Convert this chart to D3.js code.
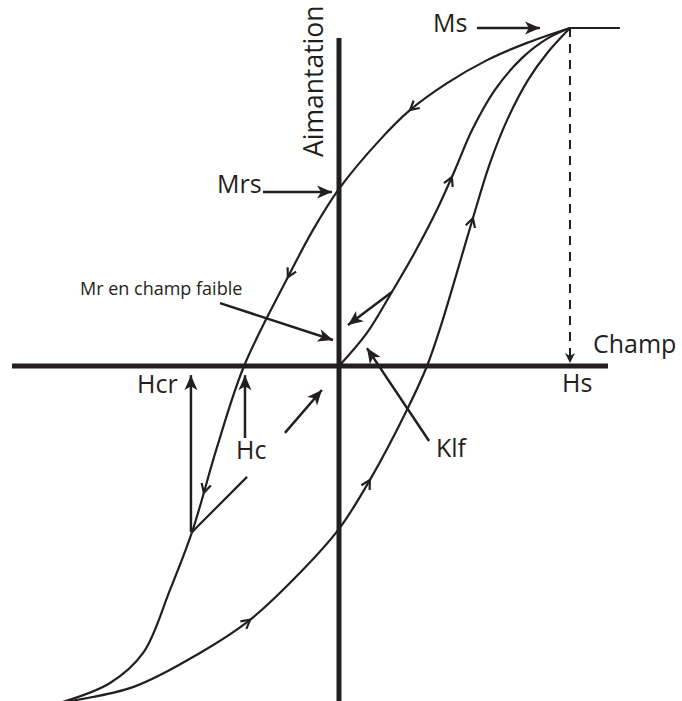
<!DOCTYPE html>
<html>
<head>
<meta charset="utf-8">
<script src="https://cdn.jsdelivr.net/npm/d3@7"></script>
<style>
  body { margin: 0; background: #fff; }
  svg { display: block; }
  text { font-family: "Open Sans", sans-serif; fill: #231f20; }
</style>
</head>
<body>
<svg width="682" height="701"></svg>
<script>
// H in units of Hs, M in units of Ms
var saturation = [[1, 1], [1.216, 1]];
var descending = [[1, 1], [0.814, 0.956], [0.641, 0.905], [0.468, 0.837], [0.307, 0.757],
    [0.177, 0.669], [0, 0.524], [-0.113, 0.402], [-0.221, 0.263], [-0.411, 0], [-0.528, -0.24],
    [-0.636, -0.491], [-0.732, -0.663], [-0.848, -0.849], [-0.991, -0.938], [-1.2, -0.995]];
var ascending = [[-1.2, -0.995], [-0.892, -0.95], [-0.602, -0.849], [-0.385, -0.751], [-0.169, -0.612],
    [0, -0.482], [0.134, -0.337], [0.294, -0.13], [0.381, 0], [0.442, 0.121], [0.506, 0.266],
    [0.58, 0.438], [0.654, 0.601], [0.732, 0.734], [0.818, 0.846], [0.905, 0.929], [1, 1]];
var initial = [[0, 0], [0.121, 0.098], [0.229, 0.219], [0.329, 0.337], [0.424, 0.462], [0.502, 0.58],
    [0.576, 0.698], [0.675, 0.817], [0.792, 0.911], [0.905, 0.97], [1, 1]];

// direction chevrons on the curves
var curveArrows = [
    {curve: 'descending', at: [0.307, 0.757]},
    {curve: 'descending', at: [-0.221, 0.263]},
    {curve: 'descending', at: [-0.58, -0.376]},
    {curve: 'ascending', at: [-0.385, -0.751]},
    {curve: 'ascending', at: [0.134, -0.337]},
    {curve: 'ascending', at: [0.58, 0.438]},
    {curve: 'initial', at: [0.489, 0.559]}
];

// annotation arrows (from -> to)
var pointers = [
    {from: [0.597, 1], to: [0.87, 1]},            // Ms
    {from: [-0.329, 0.515], to: [-0.03, 0.515]},  // Mrs
    {from: [-0.515, 0.186], to: [-0.026, 0.077]}, // Mr en champ faible
    {from: [0.229, 0.219], to: [0.039, 0.121]},   // retour
    {from: [0.39, -0.222], to: [0.121, 0.053]},   // Klf
    {from: [-0.407, -0.213], to: [-0.407, -0.027]}, // Hc
    {from: [-0.641, -0.491], to: [-0.641, -0.027]}, // Hcr
    {from: [-0.234, -0.198], to: [-0.074, -0.071]}  // recul
];
var recoil = [[-0.636, -0.491], [-0.398, -0.328]];
var hsLine = [[1, 1], [1, 0.009]];

var labels = ['Ms', 'Aimantation', 'Mrs', 'Mr en champ faible', 'Champ', 'Hs', 'Hcr', 'Hc', 'Klf'];

var svg = d3.select('svg');
var ink = '#231f20';

var x = d3.scaleLinear().domain([0, 1]).range([339, 570]);
var y = d3.scaleLinear().domain([0, 1]).range([366, 28]);

var defs = svg.append('defs');
defs.append('marker')
    .attr('id', 'head')
    .attr('markerUnits', 'userSpaceOnUse')
    .attr('viewBox', '-16 -8 17 16')
    .attr('markerWidth', 17).attr('markerHeight', 16)
    .attr('refX', 0).attr('refY', 0)
    .attr('orient', 'auto')
    .append('path')
    .attr('d', 'M0,0 L-15,-6.5 L-11,0 L-15,6.5 Z')
    .attr('fill', ink);
defs.append('marker')
    .attr('id', 'small')
    .attr('markerUnits', 'userSpaceOnUse')
    .attr('viewBox', '-12 -6 13 12')
    .attr('markerWidth', 13).attr('markerHeight', 12)
    .attr('refX', 0).attr('refY', 0)
    .attr('orient', 'auto')
    .append('path')
    .attr('d', 'M0,0 L-10,-5 L-7,0 L-10,5 Z')
    .attr('fill', ink);

// axes
svg.append('line')
    .attr('x1', 12).attr('x2', 608)
    .attr('y1', y(0)).attr('y2', y(0))
    .attr('stroke', ink).attr('stroke-width', 5);
svg.append('line')
    .attr('x1', x(0)).attr('x2', x(0))
    .attr('y1', 38).attr('y2', 701)
    .attr('stroke', ink).attr('stroke-width', 5);

// dashed Hs line
svg.append('line')
    .attr('x1', x(hsLine[0][0])).attr('y1', y(hsLine[0][1]))
    .attr('x2', x(hsLine[1][0])).attr('y2', y(hsLine[1][1]))
    .attr('stroke', ink).attr('stroke-width', 2)
    .attr('stroke-dasharray', '9,7')
    .attr('marker-end', 'url(#small)');

var line = d3.line()
    .curve(d3.curveCatmullRom.alpha(0.5))
    .x(d => x(d[0]))
    .y(d => y(d[1]));

svg.append('path')
    .attr('d', d3.line().x(d => x(d[0])).y(d => y(d[1]))(saturation))
    .attr('fill', 'none')
    .attr('stroke', ink)
    .attr('stroke-width', 2.2);

var curves = {descending: descending, ascending: ascending, initial: initial};
var paths = {};
Object.keys(curves).forEach(k => {
    paths[k] = svg.append('path')
        .attr('d', line(curves[k]))
        .attr('fill', 'none')
        .attr('stroke', ink)
        .attr('stroke-width', 2.2);
});

// chevrons along the curves
curveArrows.forEach(a => {
    var node = paths[a.curve].node();
    var total = node.getTotalLength();
    var tx = x(a.at[0]), ty = y(a.at[1]);
    var best = 0, bestD = Infinity;
    for (var l = 0; l <= total; l += 0.5) {
        var p = node.getPointAtLength(l);
        var dd = (p.x - tx) * (p.x - tx) + (p.y - ty) * (p.y - ty);
        if (dd < bestD) { bestD = dd; best = l; }
    }
    var p0 = node.getPointAtLength(Math.max(0, best - 2));
    var p1 = node.getPointAtLength(Math.min(total, best + 2));
    var tip = node.getPointAtLength(best);
    var ang = Math.atan2(p1.y - p0.y, p1.x - p0.x);
    var len = 10, spread = 0.5;
    var a1 = ang + Math.PI - spread, a2 = ang + Math.PI + spread;
    svg.append('path')
        .attr('d', 'M' + (tip.x + len * Math.cos(a1)) + ',' + (tip.y + len * Math.sin(a1)) +
            'L' + tip.x + ',' + tip.y +
            'L' + (tip.x + len * Math.cos(a2)) + ',' + (tip.y + len * Math.sin(a2)))
        .attr('fill', 'none')
        .attr('stroke', ink)
        .attr('stroke-width', 2.2);
});

// recoil segment from Hcr
svg.append('line')
    .attr('x1', x(recoil[0][0])).attr('y1', y(recoil[0][1]))
    .attr('x2', x(recoil[1][0])).attr('y2', y(recoil[1][1]))
    .attr('stroke', ink).attr('stroke-width', 2.2);

// pointer arrows
svg.selectAll('.ptr')
    .data(pointers)
    .join('line')
    .attr('class', 'ptr')
    .attr('x1', d => x(d.from[0])).attr('y1', d => y(d.from[1]))
    .attr('x2', d => x(d.to[0])).attr('y2', d => y(d.to[1]))
    .attr('stroke', ink).attr('stroke-width', 2.5)
    .attr('marker-end', 'url(#head)');

// labels
var place = [
    {x: 433, y: 32, size: 25},
    {x: 323, y: 157, size: 26.5, rotate: true},
    {x: 217, y: 193, size: 25},
    {x: 80, y: 295, size: 18},
    {x: 593, y: 353, size: 25},
    {x: 562, y: 392, size: 25},
    {x: 137, y: 393, size: 25},
    {x: 236, y: 459, size: 25},
    {x: 436, y: 457, size: 25}
];
labels.forEach((t, i) => {
    var p = place[i];
    var txt = svg.append('text')
        .attr('font-size', p.size)
        .text(t);
    if (p.rotate) txt.attr('transform', `translate(${p.x},${p.y}) rotate(-90)`);
    else txt.attr('x', p.x).attr('y', p.y);
});
</script>
</body>
</html>
